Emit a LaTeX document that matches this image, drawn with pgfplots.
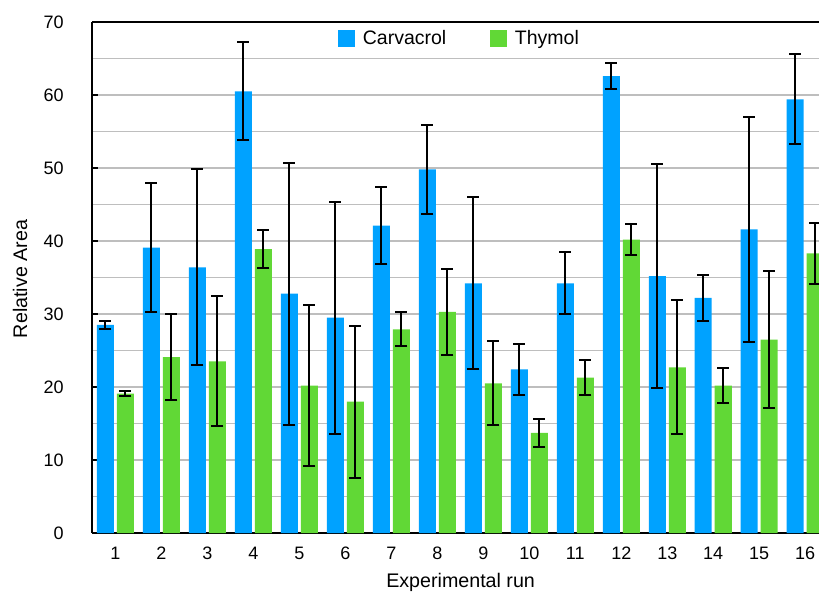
\documentclass[border=0pt]{standalone}
\usepackage{pgfplots}
\pgfplotsset{compat=1.18}
\usepackage{pgfplotstable}
\usepackage{fontspec}
\setmainfont{Liberation Sans}
\definecolor{cblue}{RGB}{0,162,255}
\definecolor{cgreen}{RGB}{97,216,54}
\definecolor{cgrid}{RGB}{190,190,190}
\pgfplotstableread{
x y err
1 28.5 0.55
2 39.1 8.8
3 36.4 13.4
4 60.5 6.7
5 32.8 17.95
6 29.5 15.9
7 42.1 5.25
8 49.8 6.15
9 34.2 11.8
10 22.4 3.45
11 34.2 4.25
12 62.6 1.8
13 35.2 15.3
14 32.2 3.15
15 41.6 15.45
16 59.4 6.15
}\carvacrol
\pgfplotstableread{
x y err
1 19.1 0.4
2 24.1 5.9
3 23.5 8.9
4 38.9 2.6
5 20.2 11.0
6 18.0 10.4
7 27.9 2.35
8 30.3 5.9
9 20.5 5.75
10 13.7 1.9
11 21.3 2.45
12 40.2 2.15
13 22.7 9.15
14 20.2 2.45
15 26.5 9.35
16 38.3 4.2
}\thymol
\begin{document}
\begin{tikzpicture}
\begin{axis}[
  at={(0,0)}, anchor=south west,
  scale only axis,
  width=436.2pt, height=306.6pt,
  ybar=1.8pt, bar width=10.2pt,
  xmin=0.49, xmax=16.30,
  ymin=0, ymax=70,
  axis x line=box, axis y line=left,
  axis line style={line width=1.2pt, black},
  x axis line style={-}, y axis line style={-},
  xtick={1,...,16},
  xtick style={draw=none},
  ytick={0,10,...,70},
  minor ytick={5,15,...,65},
  ymajorgrids, yminorgrids,
  major grid style={cgrid, line width=0.9pt},
  minor grid style={cgrid, line width=0.9pt},
  major tick length=3.6pt, minor tick length=0pt,
  tick align=inside,
  ytick style={black, line width=1pt},
  /pgf/number format/assume math mode=true,
  tick label style={font=\fontsize{10.8}{12}\selectfont},
  yticklabel style={inner sep=0pt, anchor=east, xshift=-16.8pt},
  xticklabel style={inner sep=0pt, anchor=north, yshift=-8pt},
  xlabel={Experimental run},
  ylabel={Relative Area},
  label style={font=\fontsize{11.8}{13}\selectfont},
  xlabel style={at={(axis description cs:0.507,0)}, anchor=center, yshift=-29.4pt},
  ylabel style={at={(axis description cs:0,0.497)}, anchor=center, yshift=43.2pt},
  legend columns=2,
  legend style={draw=none, fill=none, at={(0.506,0.967)}, anchor=center,
    font=\fontsize{11.7}{13}\selectfont,
    /tikz/every even column/.append style={column sep=24pt},
    cells={anchor=west}},
  legend image code/.code={\fill[#1,draw=none] (0pt,-5.1pt) rectangle (10.2pt,5.1pt);},
  error bars/error bar style={black, line width=1.2pt},
  error bars/error mark options={black, rotate=90, mark size=3.6pt, line width=1.2pt},
]
\addplot[fill=cblue, draw=none, error bars/.cd, y dir=both, y explicit]
  table[x=x, y=y, y error=err] {\carvacrol};
\addlegendentry{\hspace{3pt}Carvacrol}
\addplot[fill=cgreen, draw=none, error bars/.cd, y dir=both, y explicit]
  table[x=x, y=y, y error=err] {\thymol};
\addlegendentry{\hspace{3pt}Thymol}
\end{axis}
\pgfresetboundingbox
\useasboundingbox (-55.2pt,-35.4pt) rectangle (436.2pt,319.8pt);
\end{tikzpicture}
\end{document}
